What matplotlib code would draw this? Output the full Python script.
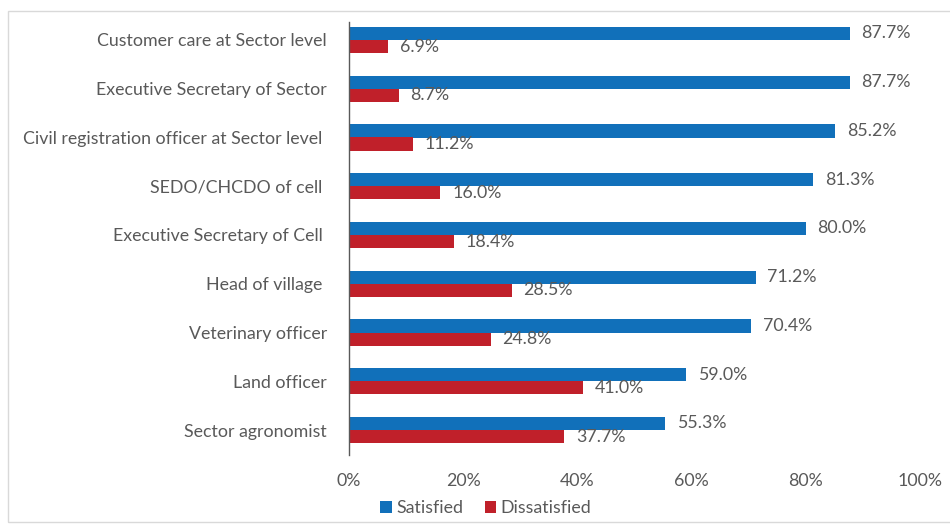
import matplotlib
matplotlib.use("Agg")
import matplotlib.pyplot as plt
import numpy as np
from matplotlib.patches import Rectangle

categories = [
    "Customer care at Sector level",
    "Executive Secretary of Sector",
    "Civil registration officer at Sector level ",
    "SEDO/CHCDO of cell ",
    "Executive Secretary of Cell ",
    "Head of village ",
    "Veterinary officer",
    "Land officer",
    "Sector agronomist",
]
satisfied = [87.7, 87.7, 85.2, 81.3, 80.0, 71.2, 70.4, 59.0, 55.3]
dissatisfied = [6.9, 8.7, 11.2, 16.0, 18.4, 28.5, 24.8, 41.0, 37.7]
xticks = [0, 20, 40, 60, 80, 100]

plt.rcParams['font.family'] = ['Lato', 'DejaVu Sans']
txt = '#595959'
blue = '#1170BA'
red = '#C0202A'
fs = 12.8

fig = plt.figure(figsize=(9.5, 5.24), dpi=100)
ax = fig.add_axes([349/950, 1-455/524, (920-349)/950, (455-22)/524])

n = len(categories)
y = np.arange(n)[::-1].astype(float)
h = 0.267
b1 = ax.barh(y + h/2, satisfied, height=h, color=blue, label='Satisfied')
b2 = ax.barh(y - h/2, dissatisfied, height=h, color=red, label='Dissatisfied')

for bars, vals in ((b1, satisfied), (b2, dissatisfied)):
    for bar, v in zip(bars, vals):
        ax.annotate(f"{v:.1f}%", (bar.get_width(), bar.get_y() + bar.get_height()/2),
                    xytext=(8.5, 0), textcoords='offset points', va='center', ha='left',
                    fontsize=fs, color=txt)

ax.set_xlim(0, 100)
ax.set_ylim(-25/48.75, 8 + 18/48.75)
ax.set_yticks(y)
ax.set_yticklabels(categories, fontsize=fs, color=txt)
ax.set_xticks(xticks)
ax.set_xticklabels([f"{t}%" for t in xticks], fontsize=fs, color=txt)
ax.tick_params(axis='y', length=0, pad=16)
ax.tick_params(axis='x', length=0, pad=13)
for s in ('top', 'right', 'bottom'):
    ax.spines[s].set_visible(False)
ax.spines['left'].set_color('#595959')
ax.spines['left'].set_linewidth(1.0)

leg = fig.legend(handles=[b1, b2], loc='center', bbox_to_anchor=(486/950, 1-508/524),
                 ncol=2, frameon=False, fontsize=fs, handlelength=0.65, handleheight=0.65,
                 handletextpad=0.25, columnspacing=1.2)
for t in leg.get_texts():
    t.set_color(txt)

fig.patches.append(Rectangle((8/950, 0.004), 1.2, 1-11/524-0.004, transform=fig.transFigure,
                             fill=False, edgecolor='#d9d9d9', linewidth=1.0))

fig.savefig('out.png', dpi=100)
